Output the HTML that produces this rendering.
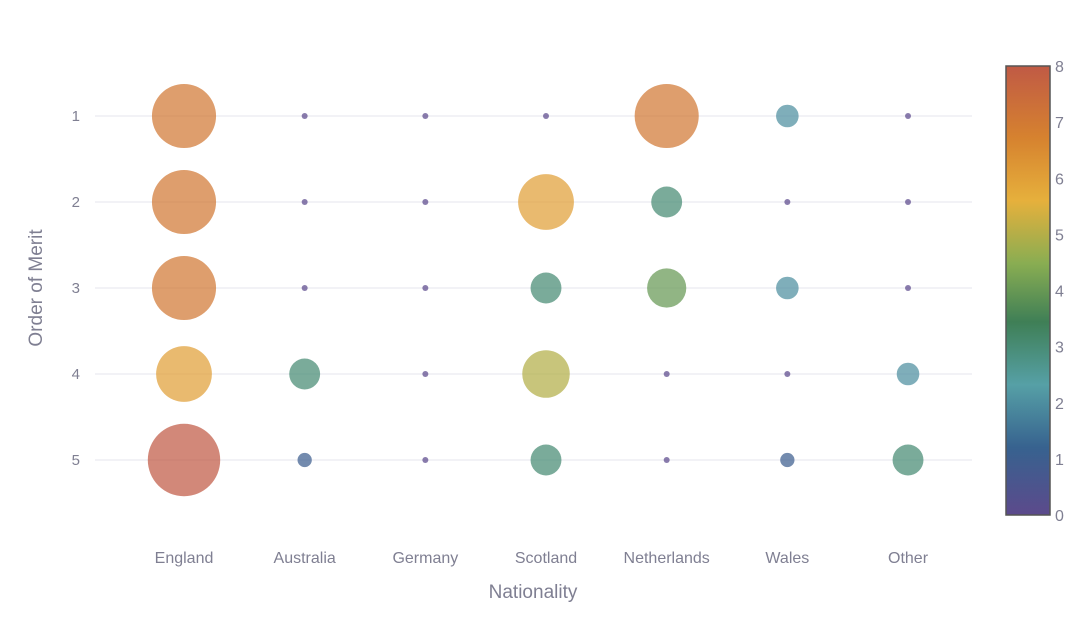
<!DOCTYPE html>
<html><head><meta charset="utf-8"><style>
body{margin:0;background:#fff;font-family:"Liberation Sans",sans-serif}
svg text{font-family:"Liberation Sans",sans-serif;fill:#7f7f92}
</style></head><body>
<svg id="c" width="1092" height="625">
<defs><linearGradient id="cb" x1="0" y1="1" x2="0" y2="0">
<stop offset="0" stop-color="#5c4a8c"/><stop offset="0.15" stop-color="#37628f"/>
<stop offset="0.29" stop-color="#56a0a6"/><stop offset="0.43" stop-color="#3f7f56"/>
<stop offset="0.56" stop-color="#89ad52"/><stop offset="0.7" stop-color="#e6b03c"/>
<stop offset="0.84" stop-color="#d6822f"/><stop offset="1" stop-color="#c05a45"/>
</linearGradient></defs>
<g id="grid"></g><g id="marks"></g><g id="axes"></g>
</svg>
<script>
const categories=["England","Australia","Germany","Scotland","Netherlands","Wales","Other"];
const ranks=[1,2,3,4,5];
const values=[
[7,7,7,6,8],
[0,0,0,3,1],
[0,0,0,0,0],
[0,6,3,5,3],
[7,3,4,0,0],
[2,0,2,0,1],
[0,0,0,2,3]];
const cbTicks=[0,1,2,3,4,5,6,7,8];
const stops=[[0,[92,74,140]],[1.2,[55,98,143]],[2.3,[86,160,166]],[3.4,[63,127,86]],[4.5,[137,173,82]],[5.6,[230,176,60]],[6.7,[214,130,47]],[8,[192,90,69]]];
const NS="http://www.w3.org/2000/svg";
const x=i=>184+i*120.67;
const y=r=>116+(r-1)*86;
const cy=v=>515-v*(449/8);
const rad=v=>3+4.15*v;
function col(v){for(let k=1;k<stops.length;k++){if(v<=stops[k][0]){const a=stops[k-1],b=stops[k],t=(v-a[0])/(b[0]-a[0]);return "rgb("+a[1].map((c,j)=>Math.round(c+(b[1][j]-c)*t)).join(",")+")";}}return "rgb(192,90,69)";}
function mk(tag,at,p,txt){const e=document.createElementNS(NS,tag);for(const k in at)e.setAttribute(k,at[k]);if(txt!==undefined)e.textContent=txt;document.getElementById(p).appendChild(e);return e;}
ranks.forEach(r=>{
 const g=mk("line",{x1:95,x2:972,y1:y(r),y2:y(r),stroke:"#e4e4ec","stroke-width":1},"grid");
 
 
 const t=mk("text",{x:80,y:y(r)+5,"text-anchor":"end","font-size":15},"axes",r);
 
 
});
categories.forEach((c,i)=>{
 const t=mk("text",{x:x(i),y:563,"text-anchor":"middle","font-size":16},"axes",c);
 
 
 values[i].forEach((v,j)=>{
  const e=mk("circle",{cx:x(i),cy:y(ranks[j]),r:rad(v),fill:col(v),"fill-opacity":0.72},"marks");
  
  
 });
});
let t=mk("text",{x:533,y:598,"text-anchor":"middle","font-size":19},"axes","Nationality");


t=mk("text",{x:42,y:288,"text-anchor":"middle","font-size":19,transform:"rotate(-90 42 288)"},"axes","Order of Merit");


const cb=mk("rect",{x:1006,y:66,width:44,height:449,fill:"url(#cb)",stroke:"#555",'stroke-width':1.5},"axes");


cbTicks.forEach(v=>{
 const e=mk("text",{x:1055,y:cy(v)+6,"font-size":16},"axes",v);
 
 
});
</script>
</body></html>
